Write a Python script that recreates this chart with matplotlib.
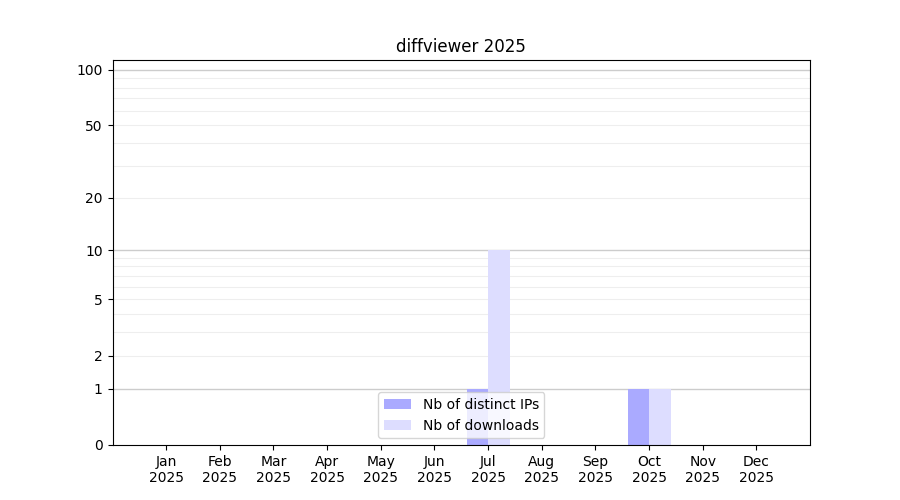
import matplotlib
matplotlib.use('Agg')
import matplotlib.pyplot as plt
import numpy as np

months = ['Jan', 'Feb', 'Mar', 'Apr', 'May', 'Jun',
          'Jul', 'Aug', 'Sep', 'Oct', 'Nov', 'Dec']
year = '2025'
distinct_ips = [0, 0, 0, 0, 0, 0, 1, 0, 0, 1, 0, 0]
downloads = [0, 0, 0, 0, 0, 0, 10, 0, 0, 1, 0, 0]
y_ticks = [0, 1, 2, 5, 10, 20, 50, 100]


def fwd(y):
    return np.log10(1 + np.clip(y, 0, None))


def inv(y):
    return 10 ** y - 1


fig, ax = plt.subplots(figsize=(9, 5), dpi=100)
x = np.arange(len(months))
ax.bar(x, distinct_ips, width=-0.4, align='edge', color='#aaaaff',
       label='Nb of distinct IPs')
ax.bar(x, downloads, width=0.4, align='edge', color='#ddddff',
       label='Nb of downloads')

ax.set_yscale('function', functions=(fwd, inv))
ax.set_ylim(0, 113)
ax.set_xlim(-1, 12)
ax.set_yticks(y_ticks)
ax.set_yticklabels([str(t) for t in y_ticks])
minor = [v for v in list(range(2, 10)) + list(range(20, 100, 10))]
ax.set_yticks(minor, minor=True)
ax.tick_params(axis='y', which='minor', length=0)
ax.set_xticks(x)
ax.set_xticklabels([m + '\n' + year for m in months])

# grille : majeure a 1, 10, 100, mineure ailleurs
for v in [1, 10, 100]:
    ax.axhline(v, color='#cccccc', lw=1, zorder=0)
for v in minor:
    ax.axhline(v, color='#eeeeee', lw=0.8, zorder=0)
ax.set_axisbelow(True)

ax.set_title('diffviewer 2025')
ax.legend(loc='lower center')

plt.savefig('out.png')
plt.close()
